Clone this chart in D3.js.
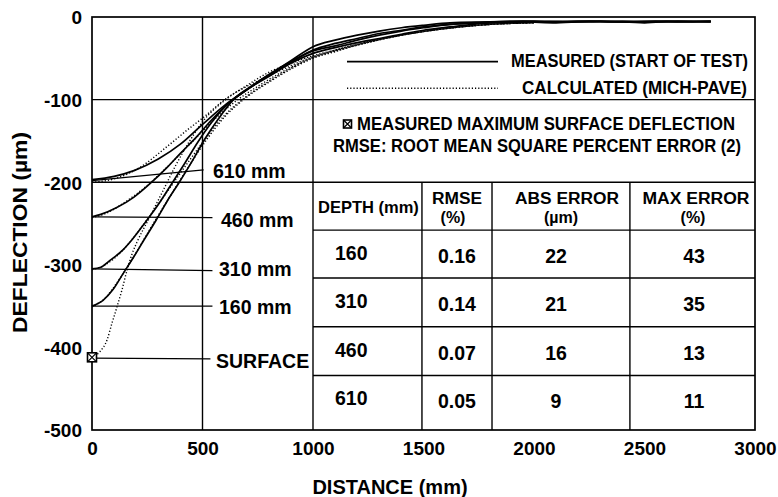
<!DOCTYPE html>
<html><head><meta charset="utf-8">
<script src="https://cdn.jsdelivr.net/npm/d3@7"></script>
<style>
html,body{margin:0;padding:0;background:#fff;}
svg{display:block;}
text{font-family:"Liberation Sans",Arial,Helvetica,sans-serif;font-weight:bold;fill:#000;}
</style></head>
<body>
<svg id="chart" width="778" height="497"></svg>
<script>
// ---------- data ----------
const xTicks = [0, 500, 1000, 1500, 2000, 2500, 3000];
const yTicks = [0, -100, -200, -300, -400, -500];
const xGrid = [500, 1000];
const yGrid = [-100, -200];

const curveLabels = ["610 mm", "460 mm", "310 mm", "160 mm", "SURFACE"];
const labelStart = [-198, -242, -305, -350, -413];
const labelEnd   = [-185, -243, -307, -350, -414];

const measured610 = [[0,-197],[100,-193],[190,-186],[300,-172],[400,-154],[500,-130],[600,-107],[700,-88],[800,-70],[900,-53],[1000,-36],[1100,-28],[1200,-22],[1300,-17],[1400,-13],[1500,-10],[1620,-7],[1800,-6],[1950,-5],[2100,-6],[2250,-5],[2400,-6],[2550,-5],[2700,-6],[2800,-5]];
const measured460 = [[0,-242],[40,-239],[110,-231],[190,-218],[270,-200],[340,-182],[400,-165],[470,-146],[540,-125],[620,-104],[700,-88],[800,-72],[900,-56],[1000,-44],[1100,-37],[1200,-31],[1300,-26],[1400,-21],[1500,-16],[1620,-12],[1800,-7],[1950,-6],[2100,-7],[2300,-5],[2500,-7],[2650,-5],[2800,-6]];
const measured310 = [[0,-305],[40,-303],[80,-295],[140,-282],[180,-270],[240,-249],[300,-227],[365,-200],[420,-177],[480,-151],[540,-128],[600,-109],[680,-92],[800,-71],[900,-55],[1000,-40],[1100,-32],[1200,-26],[1300,-20],[1400,-16],[1500,-12],[1620,-9],[1800,-6],[2000,-5],[2200,-6],[2400,-5],[2600,-6],[2800,-5]];
const measured160 = [[0,-350],[50,-343],[95,-330],[140,-311],[190,-290],[235,-270],[290,-246],[340,-223],[395,-200],[450,-176],[510,-148],[570,-124],[640,-100],[720,-84],[800,-70],[900,-54],[1000,-41],[1100,-35],[1200,-28],[1300,-22],[1400,-17],[1500,-13],[1620,-9],[1800,-7],[2000,-6],[2200,-5],[2400,-6],[2600,-5],[2800,-6]];

const calc610 = [[0,-200],[100,-196],[217,-182],[339,-157],[430,-137],[507,-121],[611,-98],[747,-78],[850,-65],[1000,-48],[1100,-40],[1200,-33],[1400,-22],[1600,-14],[1800,-9],[2000,-7]];
const calc460 = [[0,-243],[60,-238],[150,-224],[250,-204],[350,-179],[450,-152],[550,-125],[650,-102],[750,-84],[850,-68],[1000,-49],[1100,-41],[1200,-34],[1400,-22],[1600,-14],[1800,-9],[2000,-7]];
const calc310 = [[0,-306],[60,-300],[130,-285],[200,-263],[280,-234],[360,-204],[440,-174],[520,-145],[600,-119],[700,-96],[800,-78],[900,-62],[1000,-49],[1100,-41],[1200,-34],[1400,-22],[1600,-14],[1800,-9],[2000,-7]];
const calc160 = [[0,-351],[60,-340],[120,-319],[180,-294],[240,-267],[300,-240],[370,-210],[440,-180],[520,-148],[600,-121],[700,-97],[800,-79],[900,-63],[1000,-50],[1100,-42],[1200,-34],[1400,-22],[1600,-14],[1800,-9],[2000,-7]];
const calcSurface = [[0,-412],[36,-405],[68,-391],[90,-371],[113,-351],[136,-330],[158,-307],[181,-287],[208,-270],[260,-243],[320,-211],[380,-179],[440,-151],[500,-127],[600,-101],[700,-83],[800,-67],[900,-56],[1000,-47],[1100,-40],[1200,-33],[1400,-22],[1600,-14],[1800,-9],[2000,-7]];

const measuredMaxSurface = [[0,-412]];

const tableHead1 = ["DEPTH (mm)", "RMSE", "ABS ERROR", "MAX ERROR"];
const tableHead2 = ["", "(%)", "(\u00b5m)", "(%)"];
const tableDepth = ["160", "310", "460", "610"];
const tableRmse  = ["0.16", "0.14", "0.07", "0.05"];
const tableAbs   = ["22", "21", "16", "9"];
const tableMax   = ["43", "35", "13", "11"];

const legendItems = ["MEASURED (START OF TEST)", "CALCULATED (MICH-PAVE)"];
const noteLines = ["MEASURED MAXIMUM SURFACE DEFLECTION", "RMSE: ROOT MEAN SQUARE PERCENT ERROR (2)"];

// ---------- drawing ----------
const svg = d3.select("#chart");
const x = d3.scaleLinear().domain([0, 3000]).range([92, 755]);
const y = d3.scaleLinear().domain([-500, 0]).range([430, 17]);

svg.append("rect").attr("width", 778).attr("height", 497).attr("fill", "#fff");

const grid = svg.append("g").attr("stroke", "#000").attr("stroke-width", 1.4);
xGrid.forEach(v => grid.append("line").attr("x1", x(v)).attr("x2", x(v)).attr("y1", y(0)).attr("y2", y(-500)));
yGrid.forEach(v => grid.append("line").attr("x1", x(0)).attr("x2", x(3000)).attr("y1", y(v)).attr("y2", y(v)));

// table grid
const colEdges = [1000, 1493, 1810, 2434, 3000];
const rowEdges = [-200, -258, -316, -375, -434, -500];
colEdges.slice(1, 4).forEach(v => grid.append("line").attr("x1", x(v)).attr("x2", x(v)).attr("y1", y(-200)).attr("y2", y(-500)));
rowEdges.slice(1, 5).forEach(v => grid.append("line").attr("x1", x(1000)).attr("x2", x(3000)).attr("y1", y(v)).attr("y2", y(v)));

// frame
svg.append("rect").attr("x", x(0)).attr("y", y(0)).attr("width", x(3000) - x(0)).attr("height", y(-500) - y(0))
  .attr("fill", "none").attr("stroke", "#000").attr("stroke-width", 1.7);

// axes
const xAxis = svg.append("g").attr("transform", `translate(0,${y(-500)})`)
  .call(d3.axisBottom(x).tickValues(xTicks).tickSize(0).tickPadding(11.5).tickFormat(d3.format("d")));
const yAxis = svg.append("g").attr("transform", `translate(${x(0)},0)`)
  .call(d3.axisLeft(y).tickValues(yTicks).tickSize(0).tickPadding(10).tickFormat(d3.format("d")));
[xAxis, yAxis].forEach(a => {
  a.select(".domain").remove();
  a.selectAll("text").style("font-size", "19px").attr("font-family", null).attr("fill", "#000");
});
yAxis.selectAll("text").attr("dy", "0.36em").text(d => d === 0 ? "0" : "-" + Math.abs(d));

svg.append("text").attr("x", 390).attr("y", 494).attr("text-anchor", "middle").style("font-size", "20px").text("DISTANCE (mm)");
svg.append("text").attr("transform", "translate(27,232.5) rotate(-90)").attr("text-anchor", "middle")
  .style("font-size", "20px").attr("textLength", 201).attr("lengthAdjust", "spacingAndGlyphs").text("DEFLECTION  (\u00b5m)");

// curves
const line = d3.line().x(d => x(d[0])).y(d => y(d[1])).curve(d3.curveMonotoneX);
const curves = svg.append("g").attr("fill", "none").attr("stroke", "#000");
[calc610, calc460, calc310, calc160, calcSurface].forEach(s =>
  curves.append("path").attr("d", line(s)).attr("stroke-width", 1.4).attr("stroke-dasharray", "1.2,2"));
[measured610, measured460, measured310, measured160].forEach(s =>
  curves.append("path").attr("d", line(s)).attr("stroke-width", 1.7));

// leader lines and labels
const labelEndX = [505, 545, 545, 545, 536];
const labelTextX = [213, 221, 219, 219, 216];
const labelBase = [177.7, 227, 276, 314, 368];
curveLabels.forEach((t, i) => {
  svg.append("line").attr("x1", x(0)).attr("y1", y(labelStart[i])).attr("x2", x(labelEndX[i])).attr("y2", y(labelEnd[i]))
    .attr("stroke", "#000").attr("stroke-width", 1.3);
  svg.append("text").attr("x", labelTextX[i]).attr("y", labelBase[i]).style("font-size", "19.5px").text(t);
});

// measured max surface marker
function boxX(g, cx, cy, s) {
  g.append("rect").attr("x", cx - s / 2).attr("y", cy - s / 2).attr("width", s).attr("height", s)
    .attr("fill", "#fff").attr("stroke", "#000").attr("stroke-width", 1.6);
  g.append("path").attr("d", `M${cx - s / 2},${cy - s / 2}L${cx + s / 2},${cy + s / 2}M${cx + s / 2},${cy - s / 2}L${cx - s / 2},${cy + s / 2}`)
    .attr("stroke", "#000").attr("stroke-width", 1.2);
}
measuredMaxSurface.forEach(d => boxX(svg, x(d[0]), y(d[1]), 9));

// legend
const legY = [61.7, 88.3];
const legTextX = [511, 522];
const legTextW = [237, 225];
legendItems.forEach((t, i) => {
  const l = svg.append("line").attr("x1", 347).attr("x2", 498).attr("y1", legY[i]).attr("y2", legY[i])
    .attr("stroke", "#000").attr("stroke-width", i === 0 ? 1.7 : 1.4);
  if (i === 1) l.attr("stroke-dasharray", "1.2,2");
  svg.append("text").attr("x", legTextX[i]).attr("y", legY[i] + 5.5).style("font-size", "18px")
    .attr("textLength", legTextW[i]).attr("lengthAdjust", "spacingAndGlyphs").text(t);
});
boxX(svg, 347.5, 124, 8);
svg.append("text").attr("x", 357).attr("y", 130).style("font-size", "18px")
  .attr("textLength", 378).attr("lengthAdjust", "spacingAndGlyphs").text(noteLines[0]);
svg.append("text").attr("x", 333).attr("y", 151.7).style("font-size", "18px")
  .attr("textLength", 408).attr("lengthAdjust", "spacingAndGlyphs").text(noteLines[1]);

// table text
const colCenters = [368, 457, 567, 696];
const head2Centers = [368, 453, 561, 693];
tableHead1.forEach((t, i) => {
  if (i === 0) {
    svg.append("text").attr("x", 318).attr("y", 213.3).style("font-size", "16.5px").text(t);
  } else {
    svg.append("text").attr("x", colCenters[i]).attr("y", 204).attr("text-anchor", "middle").style("font-size", "16px")
      .attr("textLength", [0, 50, 104, 107][i]).attr("lengthAdjust", "spacingAndGlyphs").text(t);
    svg.append("text").attr("x", head2Centers[i]).attr("y", 222.5).attr("text-anchor", "middle").style("font-size", "16px").text(tableHead2[i]);
  }
});
tableDepth.forEach((d, r) => {
  const top = y(rowEdges[r + 1]);
  svg.append("text").attr("x", 335).attr("y", top + 30).style("font-size", "19.5px").text(d);
  svg.append("text").attr("x", 457).attr("y", top + 33).attr("text-anchor", "middle").style("font-size", "19.5px").text(tableRmse[r]);
  svg.append("text").attr("x", 556).attr("y", top + 33).attr("text-anchor", "middle").style("font-size", "19.5px").text(tableAbs[r]);
  svg.append("text").attr("x", 694).attr("y", top + 33).attr("text-anchor", "middle").style("font-size", "19.5px").text(tableMax[r]);
});
</script>
</body></html>
